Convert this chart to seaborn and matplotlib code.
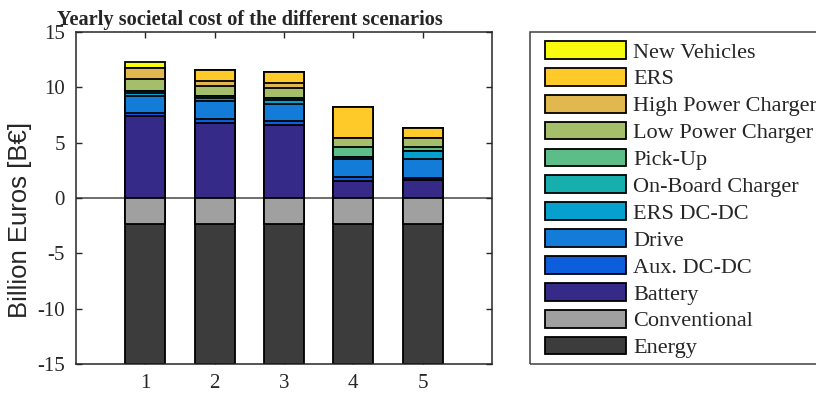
import numpy as np
import pandas as pd
import matplotlib
matplotlib.use("Agg")
import matplotlib.pyplot as plt
from matplotlib.patches import Patch, Rectangle
import seaborn as sns

# Datos (miles de millones de euros por año)
# ==============================================================================
scenarios = [1, 2, 3, 4, 5]
battery = [7.40, 6.75, 6.60, 1.54, 1.60]
aux_dcdc = [0.30, 0.40, 0.36, 0.36, 0.24]
drive = [1.55, 1.60, 1.56, 1.58, 1.65]
ers_dcdc = [0.25, 0.25, 0.30, 0.25, 0.78]
onboard = [0.17, 0.20, 0.22, 0.00, 0.00]
pickup = [0.00, 0.00, 0.00, 0.87, 0.30]
low_power = [1.05, 0.93, 0.90, 0.85, 0.88]
high_power = [1.05, 0.46, 0.48, 0.00, 0.00]
ers = [0.00, 0.97, 0.93, 2.80, 0.90]
new_vehicles = [0.50, 0.00, 0.00, 0.00, 0.00]
conventional = [-2.33, -2.33, -2.33, -2.33, -2.33]
energy = [-12.67, -12.67, -12.67, -12.67, -12.67]

pos_labels = ["Battery", "Aux. DC-DC", "Drive", "ERS DC-DC", "On-Board Charger",
              "Pick-Up", "Low Power Charger", "High Power Charger", "ERS", "New Vehicles"]
pos_values = [battery, aux_dcdc, drive, ers_dcdc, onboard, pickup,
              low_power, high_power, ers, new_vehicles]
pos_colors = ["#352a87", "#0d5edc", "#127cd8", "#06a0ce", "#17afae",
              "#5cbd88", "#a5be6a", "#e0b84f", "#fdca2a", "#f9fb0e"]
neg_labels = ["Conventional", "Energy"]
neg_values = [conventional, energy]
neg_colors = ["#a0a0a0", "#3c3c3c"]

# Configuración
# ==============================================================================
sns.set_theme(style="white")
plt.rcParams["font.family"] = ["Liberation Serif", "DejaVu Serif"]
plt.rcParams["axes.unicode_minus"] = False

fig = plt.figure(figsize=(8.16, 3.98), dpi=100)
ax = fig.add_axes([76 / 816, 1 - 364 / 398, 416 / 816, 332 / 398])

BAR_W = 0.58
EDGE = dict(edgecolor="black", linewidth=1.3)

# Barras apiladas: se dibuja el acumulado mayor primero
cum_pos = np.cumsum(np.array(pos_values), axis=0)
for i in range(len(pos_values) - 1, -1, -1):
    sns.barplot(x=scenarios, y=cum_pos[i], color=pos_colors[i], saturation=1,
                native_scale=True, width=BAR_W, errorbar=None, ax=ax, **EDGE)
cum_neg = np.cumsum(np.array(neg_values), axis=0)
for i in range(len(neg_values) - 1, -1, -1):
    sns.barplot(x=scenarios, y=cum_neg[i], color=neg_colors[i], saturation=1,
                native_scale=True, width=BAR_W, errorbar=None, ax=ax, **EDGE)

ax.axhline(0, color="#555555", lw=1.2, zorder=0.5)

ax.set_xlim(0, 6)
ax.set_ylim(-15, 15)
ax.set_xticks(scenarios)
ax.set_xticklabels([str(s) for s in scenarios])
ax.set_yticks(np.arange(-15, 16, 5))
ax.set_xlabel("")
ax.set_ylabel("Billion Euros [B€]", family=["Liberation Sans", "DejaVu Sans"],
              fontsize=18.5)
ax.yaxis.set_label_coords(-0.105, 0.434)
ax.tick_params(direction="in", length=4, width=1, colors="#262626",
               labelsize=15, top=True, right=True, left=True, bottom=True)
ax.tick_params(axis="y", pad=8)
ax.tick_params(axis="x", pad=7)
for s in ax.spines.values():
    s.set_color("#262626")
    s.set_linewidth(1.1)

fig.text(57 / 816, 1 - 25 / 398, "Yearly societal cost of the different scenarios",
         fontsize=14.7, fontweight="bold", va="baseline", ha="left")

# Leyenda
# ==============================================================================
labels = list(reversed(pos_labels)) + neg_labels
colors = list(reversed(pos_colors)) + neg_colors
handles = [Patch(facecolor=c, **EDGE) for c in colors]
fig.legend(handles, labels, loc="upper left",
           bbox_to_anchor=(545 / 816, 1 - 41 / 398), bbox_transform=fig.transFigure,
           frameon=False, borderpad=0, borderaxespad=0, fontsize=16,
           handlelength=3.65, handleheight=0.85, handletextpad=0.32, labelspacing=0.24)
fig.patches.append(Rectangle((530 / 816, 1 - 364 / 398), 0.5, 332 / 398,
                             transform=fig.transFigure, fill=False,
                             edgecolor="#404040", linewidth=1.1))

plt.savefig("out.png", dpi=100)
